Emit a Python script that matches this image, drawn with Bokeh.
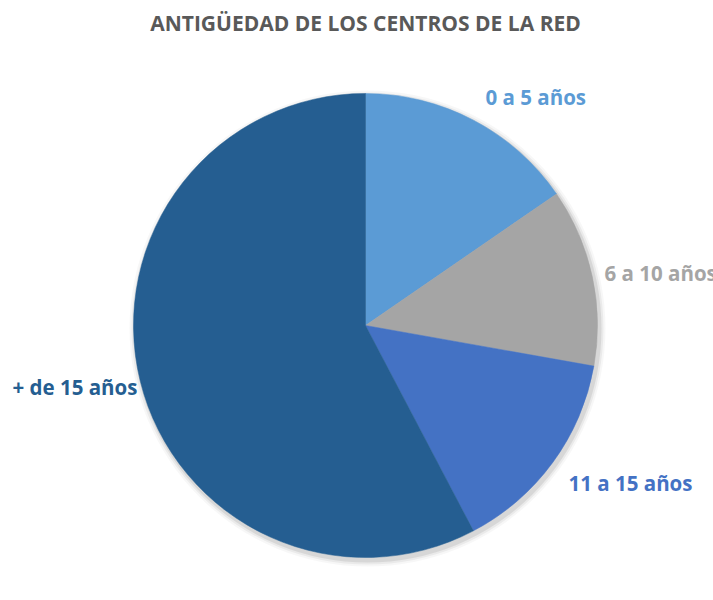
import numpy as np
from bokeh.plotting import figure
from bokeh.models import ColumnDataSource, Range1d
from bokeh.core.properties import value
from bokeh.embed import file_html
from bokeh.resources import INLINE

categories = ["0 a 5 años", "6 a 10 años", "11 a 15 años", "+ de 15 años"]
values = [15.4, 12.4, 14.5, 57.7]
colors = ["#5B9BD5", "#A5A5A5", "#4472C4", "#255E91"]
title = "ANTIGÜEDAD DE LOS CENTROS DE LA RED"

W, H = 713, 600
p = figure(width=W, height=H, output_backend="svg", toolbar_location=None,
           x_range=Range1d(0, W), y_range=Range1d(0, H), min_border=0)
p.axis.visible = False
p.grid.visible = False
p.outline_line_color = None
p.background_fill_color = "white"
p.border_fill_color = "white"

cx, cy, r = 365, H - 325, 232

# soft shadow
for dr, a in [(6, 0.03), (4, 0.05), (2, 0.08)]:
    p.circle(x=[cx + 2], y=[cy - 3], radius=r + dr, fill_color="#000000", fill_alpha=a, line_color=None)

vals = np.array(values, dtype=float)
frac = vals / vals.sum()
ends = np.cumsum(frac) * 2 * np.pi
starts = np.concatenate([[0], ends[:-1]])
start_ang = np.pi / 2 - starts
end_ang = np.pi / 2 - ends
src = ColumnDataSource(dict(start=start_ang, end=end_ang, color=colors, cat=categories))
p.wedge(x=cx, y=cy, radius=r, start_angle="start", end_angle="end", direction="clock",
        fill_color="color", line_color="color", line_width=0.5, source=src)

# title
p.text(x=[365], y=[H - 22], text=[title], text_font=value("Open Sans"), text_font_style="bold",
       text_font_size="21px", text_color="#595959", text_align="center", text_baseline="middle")

# labels
lx = [485, 604, 568, 12]
ly = [H - 96, H - 272, H - 482, H - 386]
p.text(x=lx, y=ly, text=categories, text_font=value("Open Sans"), text_font_style="bold",
       text_font_size="20.5px", text_color=colors, text_align="left", text_baseline="middle")

open("out.html", "w").write(file_html(p, INLINE))
